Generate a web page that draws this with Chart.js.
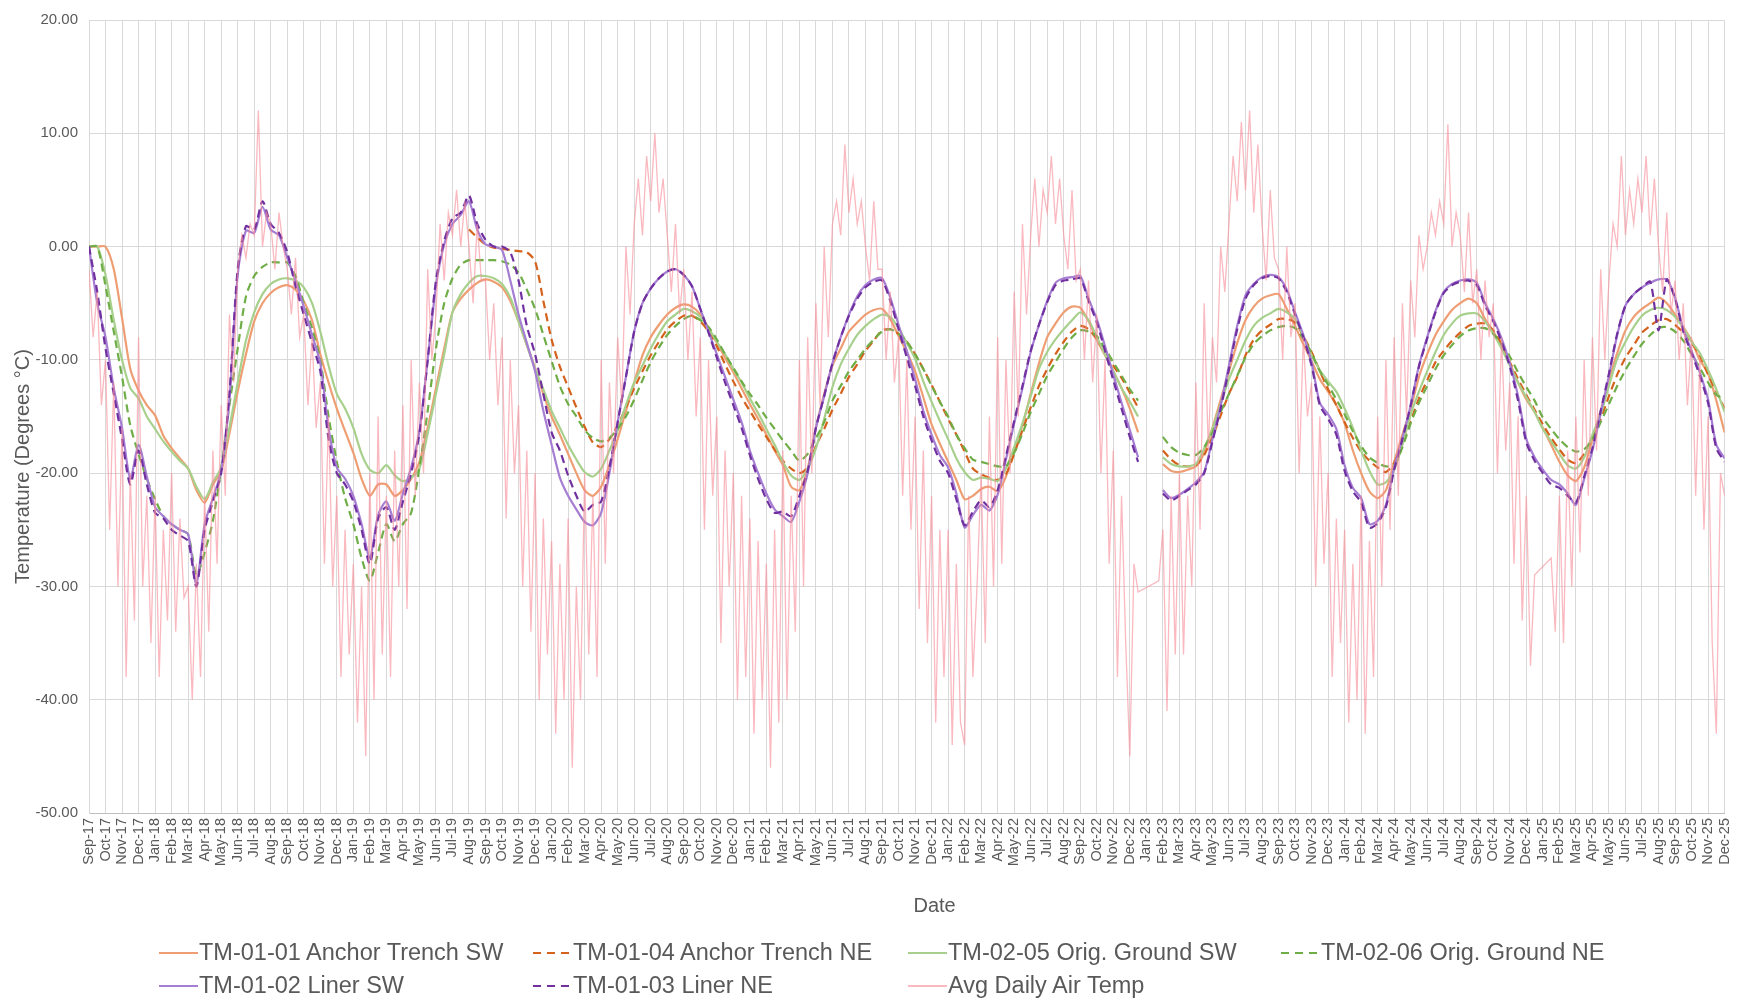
<!DOCTYPE html>
<html>
<head>
<meta charset="utf-8">
<script src="https://cdn.jsdelivr.net/npm/chart.js@4.4.1/dist/chart.umd.min.js"></script>
<style>
  html, body { margin: 0; padding: 0; background: #fff; }
  #wrap { position: relative; width: 1747px; height: 1003px; }
  #legend {
    position: absolute; left: 159px; top: 936px;
    display: grid; grid-template-columns: 374px 375px 373px auto;
    font-family: "Liberation Sans", Arial, sans-serif; font-size: 23.5px; color: #595959;
  }
  .item { display: flex; align-items: center; height: 33px; white-space: nowrap; }
</style>
</head>
<body>
<div id="wrap">
  <canvas id="tempChart" width="1747" height="1003"></canvas>
  <div id="legend"></div>
</div>
<script>
// month ticks, one per month from Sep-17
const monthLabels = [
  'Sep-17','Oct-17','Nov-17','Dec-17',
  'Jan-18','Feb-18','Mar-18','Apr-18','May-18','Jun-18','Jul-18','Aug-18','Sep-18','Oct-18','Nov-18','Dec-18',
  'Jan-19','Feb-19','Mar-19','Apr-19','May-19','Jun-19','Jul-19','Aug-19','Sep-19','Oct-19','Nov-19','Dec-19',
  'Jan-20','Feb-20','Mar-20','Apr-20','May-20','Jun-20','Jul-20','Aug-20','Sep-20','Oct-20','Nov-20','Dec-20',
  'Jan-21','Feb-21','Mar-21','Apr-21','May-21','Jun-21','Jul-21','Aug-21','Sep-21','Oct-21','Nov-21','Dec-21',
  'Jan-22','Feb-22','Mar-22','Apr-22','May-22','Jun-22','Jul-22','Aug-22','Sep-22','Oct-22','Nov-22','Dec-22',
  'Jan-23','Feb-23','Mar-23','Apr-23','May-23','Jun-23','Jul-23','Aug-23','Sep-23','Oct-23','Nov-23','Dec-23',
  'Jan-24','Feb-24','Mar-24','Apr-24','May-24','Jun-24','Jul-24','Aug-24','Sep-24','Oct-24','Nov-24','Dec-24',
  'Jan-25','Feb-25','Mar-25','Apr-25','May-25','Jun-25','Jul-25','Aug-25','Sep-25','Oct-25','Nov-25','Dec-25'
];
const yTicks = [-50, -40, -30, -20, -10, 0, 10, 20];

// thermistor readings, twice a month (Sep-17 .. Dec-25), one row per Sep..Aug year
const TM_STEP = 0.5;
const anchorSW = [
  0, 0, 0, -2, -6.3, -10.8, -12.7, -14, -14.9, -16.7, -17.8, -18.7, -19.6, -21.5, -22.6, -21, -19.8, -16.5, -12.8, -9.5, -6.6, -5, -4.1, -3.6,
  -3.4, -3.8, -4.8, -6.5, -9.5, -12, -14.3, -16.3, -18.2, -20.5, -22, -21, -21, -22, -21.5, -20.5, -19, -16, -12.5, -9, -5.8, -4.6, -3.8, -3.2,
  -2.9, -3.1, -3.6, -4.8, -6.6, -8.7, -10.7, -13, -15, -16.6, -18.3, -20, -21.5, -22, -21.2, -19.3, -17, -14.5, -12, -9.6, -8, -6.9, -6, -5.4,
  -5.1, -5.3, -6, -7.2, -8.5, -9.8, -11.1, -12.5, -13.9, -15.2, -16.6, -18, -19.3, -21.2, -21.5, -19.6, -16, -13, -10.5, -9, -7.5, -6.7, -6, -5.6,
  -5.5, -6.4, -7.9, -9.3, -11, -13.3, -15.7, -17.4, -19, -20.6, -22.3, -22, -21.4, -21.2, -21.6, -20.3, -18, -15.8, -13, -10.3, -8, -6.8, -5.8, -5.3,
  -5.4, -6.6, -8.2, -9.6, -11, -12.5, -14.3, -16.4, null, null, -19.2, -19.8, -19.9, -19.7, -19.4, -18.2, -16, -13.5, -11, -8.5, -6.5, -5.3, -4.6, -4.3,
  -4.2, -5.5, -7, -8.6, -10.1, -11.7, -12.8, -14, -15.6, -18, -20, -21.6, -22.2, -21.5, -19, -16.6, -14.3, -11.5, -9.5, -7.8, -6.6, -5.6, -5, -4.6,
  -5, -6.4, -7.5, -8.8, -10.3, -12, -13.5, -14.6, -16, -17.5, -19, -20.2, -20.7, -19.5, -17, -14.5, -11.8, -9.4, -7.4, -6.2, -5.5, -5, -4.5, -5,
  -6, -7.1, -8.3, -10, -11.2, -13.6, -16.4
];
const anchorNE = [
  null, null, null, null, null, null, null, null, null, null, null, null, null, null, null, null, null, null, null, null, null, null, null, null,
  null, null, null, null, null, null, null, null, null, null, null, null, null, null, null, null, null, null, null, null, null, null, 1.5, 0.8,
  0.2, -0.1, -0.2, -0.3, -0.4, -0.5, -1.3, -4.8, -8.2, -10.6, -12.4, -14.2, -15.9, -17.3, -17.7, -17, -15.8, -14.2, -12.5, -11, -9.6, -8.4, -7.3, -6.6,
  -6.1, -6.1, -6.6, -7.5, -8.8, -10.4, -11.9, -13.3, -14.5, -15.7, -16.8, -17.9, -18.9, -19.6, -20, -19.5, -17.6, -16.1, -14.4, -13, -11.5, -10.4, -9.2, -8.3,
  -7.4, -7.3, -7.7, -8.4, -9.5, -10.8, -12.2, -13.7, -15.2, -16.6, -18.1, -19.6, -20.1, -20.4, -20.6, -20.1, -18.3, -16.2, -14.2, -12.3, -10.8, -9.5, -8.4, -7.5,
  -7, -7.3, -8.2, -9.4, -10.5, -11.6, -12.9, -14.2, null, null, -18, -18.8, -19.3, -19.4, -19.3, -18.4, -16.8, -14.9, -13, -11.5, -9.6, -8.2, -7.4, -6.9,
  -6.4, -6.4, -6.7, -7.9, -9.3, -11, -12.6, -14, -15.5, -16.9, -18.1, -18.9, -19.5, -19.9, -19.1, -17.4, -15.4, -13.4, -11.8, -10.2, -9.2, -8.3, -7.6, -7,
  -6.8, -6.8, -7.4, -8.6, -10.2, -11.7, -13.1, -14.4, -15.7, -16.9, -17.9, -18.8, -19.1, -18.3, -16.9, -15.2, -13.2, -11.3, -9.8, -8.7, -7.6, -7, -6.5, -6.4,
  -6.9, -7.6, -8.5, -9.6, -11.3, -12.8, -14.3
];
const groundSW = [
  0, 0, -2.5, -6.5, -10, -12.5, -13.4, -15, -16.1, -17.2, -18.1, -18.9, -19.6, -21.2, -22.3, -20.8, -19.5, -16, -12, -8.3, -5.8, -4.2, -3.3, -2.9,
  -2.8, -3, -3.6, -5, -7.5, -10.5, -13, -14.3, -16, -18.3, -19.7, -20, -19.3, -20.2, -20.7, -20.4, -19.6, -16.5, -13, -9.5, -5.8, -4.2, -3.2, -2.6,
  -2.6, -2.8, -3.3, -4.5, -6.6, -8.7, -10.8, -12.6, -14.5, -16, -17.5, -18.8, -19.9, -20.3, -19.6, -18, -16.2, -14, -12, -10.5, -9, -7.7, -6.6, -6,
  -5.5, -5.7, -6.2, -7.2, -8.4, -9.5, -10.8, -12, -13.4, -14.7, -16.1, -17.5, -19, -20.2, -20.6, -19.6, -17.8, -15.2, -12.4, -10.4, -9, -7.8, -7, -6.4,
  -6, -6.2, -7.2, -8.5, -9.9, -11.9, -13.7, -15.4, -17, -18.7, -19.9, -20.6, -20.4, -20.5, -20.7, -19.6, -17.7, -15.6, -13.2, -10.8, -9.3, -8.2, -7.3, -6.5,
  -5.8, -6.5, -8, -9.5, -11, -12.5, -13.7, -15, null, null, -18.6, -19.2, -19.4, -19.4, -19.2, -17.8, -16.1, -13.9, -11.7, -10, -8.3, -7, -6.3, -5.9,
  -5.5, -5.8, -6.4, -7.9, -9.6, -10.9, -11.9, -12.8, -14.3, -16, -18, -19.8, -21, -20.8, -19.7, -17.5, -14.8, -12.8, -11, -9.3, -7.8, -6.8, -6.1, -5.9,
  -5.9, -6.6, -7.7, -9, -10.5, -12, -13.3, -14.6, -16.1, -17.2, -18.3, -19.3, -19.6, -18.6, -16.6, -14.8, -12.3, -9.9, -8.4, -7.1, -6.1, -5.6, -5.4, -5.6,
  -6.2, -7.2, -8.4, -9.4, -10.9, -12.6, -14.6
];
const groundNE = [
  0, 0, -3.5, -7.5, -11.5, -15.8, -18.3, -20.5, -22.3, -23.8, -24.5, -25, -25.4, -29, -27, -24.2, -19.6, -14, -9, -4.4, -2.6, -1.8, -1.4, -1.4,
  -1.4, -2.6, -5, -7.2, -10, -15, -19, -22.2, -24.5, -27.5, -29.5, -27, -24.5, -26, -24.5, -23.5, -19.5, -14.5, -9, -5, -2.8, -1.6, -1.2, -1.2,
  -1.2, -1.2, -1.3, -1.6, -2.3, -3.8, -5.5, -7.8, -10.1, -12.3, -13.9, -15, -16.2, -16.9, -17.2, -16.9, -16.1, -15, -13.5, -11.8, -10.2, -8.9, -7.8, -7,
  -6.4, -6.1, -6.5, -7.1, -8.2, -9.5, -10.7, -11.9, -13, -14, -15.1, -16.1, -17.1, -18, -18.9, -18.3, -16.9, -15.5, -13.6, -12.3, -11, -10, -9, -8.2,
  -7.5, -7.3, -7.7, -8.4, -9.5, -10.8, -12.3, -13.7, -15, -16.6, -17.8, -18.8, -19, -19.2, -19.4, -19.4, -18.2, -16.5, -14.6, -13, -11.4, -10.2, -9, -8,
  -7.4, -7.5, -7.9, -9, -10.2, -11.4, -12.6, -13.6, null, null, -16.8, -17.7, -18.2, -18.4, -18.4, -17.7, -16.4, -14.6, -13, -11.4, -9.8, -8.6, -7.9, -7.4,
  -7.1, -7, -7.2, -8.1, -9.4, -11, -12.2, -13.5, -14.8, -16.3, -17.6, -18.6, -19.1, -19.4, -19.3, -17.7, -15.6, -13.8, -12.3, -10.8, -9.6, -8.7, -7.9, -7.4,
  -7.2, -7.2, -7.7, -8.6, -9.7, -11.1, -12.4, -13.6, -15.1, -16.1, -17, -17.7, -18.1, -17.9, -17, -15.5, -13.9, -12.3, -10.9, -9.7, -8.6, -7.8, -7.2, -7.1,
  -7.5, -8.3, -9.5, -10.7, -12, -13.1, -13.4
];
const linerSW = [
  0, -5, -8, -12.5, -16, -20.5, -17.5, -20.3, -23, -23.8, -24.5, -25, -25.4, -29.8, -24.5, -22.2, -19.8, -13.4, -2.5, 1.4, 1.2, 3.5, 1.5, 1,
  -1, -3, -5.3, -7.8, -10.3, -16, -19.5, -20.5, -22, -24.5, -27.5, -23.7, -22.5, -24.2, -21.8, -19.5, -16.3, -10, -3.5, 0.2, 2, 2.8, 4, 1.5,
  0.2, 0, -0.3, -3, -6, -8.5, -11, -14.5, -17.5, -20.4, -22, -23.2, -24.3, -24.6, -23.5, -20, -15.5, -11.5, -7.5, -5, -3.7, -2.8, -2.2, -2,
  -2.5, -3.5, -5.5, -7.5, -9.5, -11.5, -13.5, -15.5, -18, -20, -21.8, -23.2, -23.8, -24.3, -22.5, -20, -16, -13.2, -10.3, -8, -6, -4.4, -3.4, -2.9,
  -2.8, -4.5, -6.9, -9.2, -11.7, -14.5, -16.6, -18.4, -19.5, -21.8, -24.8, -23.7, -22.8, -23.3, -21.9, -18.8, -15.6, -12.5, -9.3, -6.9, -4.8, -3.2, -2.8, -2.7,
  -2.6, -4.6, -6.4, -8.8, -11.3, -13.8, -16.2, -18.6, null, null, -21.5, -22.2, -21.9, -21.4, -20.8, -19.9, -17, -14, -10.5, -7, -4.3, -3.3, -2.7, -2.5,
  -2.7, -3.8, -5.8, -7.8, -10.2, -13.8, -14.8, -16.1, -19.3, -21.3, -22.2, -24.5, -24.2, -22.8, -19.5, -16.9, -14, -10.5, -8, -5.7, -4, -3.3, -3, -2.9,
  -3.2, -5, -6.4, -8.1, -10.3, -13.2, -17, -18.6, -19.7, -20.6, -21, -21.8, -22.8, -20.5, -18, -14.7, -11.4, -7.8, -5.2, -4.2, -3.6, -3.2, -2.9, -2.9,
  -4.5, -7.3, -9.2, -11.1, -13.5, -17.5, -18.7
];
const linerNE = [
  0, -4, -9, -13, -17, -21, -18, -21, -23.5, -24, -25, -25.5, -26, -30, -25, -22.5, -20, -13, -2, 1.8, 1.5, 4, 2, 1.2,
  -0.5, -3.5, -6, -8.5, -11, -17, -20, -21, -22.5, -25, -28, -24, -23, -25, -22.5, -20, -16.5, -10, -3, 0.5, 2.5, 3, 4.5, 2,
  0.6, 0, 0, -0.5, -3, -7, -9.5, -13, -16.4, -18, -20.2, -22, -23.4, -22.8, -22.5, -19.5, -15.5, -11.5, -7.5, -5, -3.7, -2.8, -2.2, -2,
  -2.5, -3.5, -5.5, -7.6, -9.8, -12, -14, -16, -18.4, -20.5, -22.3, -23.5, -23.4, -23.8, -22, -19.8, -16, -13.2, -10.3, -8, -6.1, -4.6, -3.6, -3.1,
  -3, -4.8, -7.3, -9.8, -12.3, -15, -17.1, -18.9, -20, -22.3, -24.6, -23.4, -22.4, -23, -21.5, -18.5, -15.4, -12.3, -9.2, -6.9, -4.9, -3.4, -3, -2.9,
  -2.8, -4.8, -6.7, -9.2, -11.8, -14.3, -16.8, -19, null, null, -21.8, -22.4, -22, -21.5, -21, -20, -17.2, -14.3, -10.8, -7.3, -4.6, -3.4, -2.8, -2.6,
  -2.8, -4, -6, -8, -10.5, -14, -15.2, -16.6, -19.8, -21.6, -22.6, -24.8, -24.4, -23, -19.7, -17, -14, -10.6, -8.1, -5.8, -4.1, -3.4, -3.1, -3,
  -3.4, -5.2, -6.6, -8.4, -10.6, -13.6, -17.3, -18.9, -20, -21, -21.3, -22, -22.6, -20.3, -17.8, -14.5, -11.2, -7.7, -5.2, -4.2, -3.6, -3.1, -7.4, -2.9,
  -4.6, -7.5, -9.4, -11.4, -13.8, -17.8, -19
];

// average daily air temperature, read about weekly (4 per month); null = no record
const AIR_STEP = 0.25;
const airTemp = [
  -2, -8, -4, -14,   -10, -25, -12, -30,   -16, -38, -20, -33,   -8, -30, -22, -35,
  -22, -38, -25, -33,   -20, -34, -24, -31,   -30, -40, -28, -38,   -22, -34, -18, -28,
  -14, -22, -6, -12,   -2, 1, -1, 2,   1, 12, 0, 3,   2, -2, 3, 0,
  -2, -6, -1, -8,   -6, -14, -8, -16,   -12, -28, -15, -30,   -22, -38, -25, -36,
  -28, -42, -30, -45,   -20, -40, -15, -36,   -22, -38, -18, -30,   -14, -32, -10, -22,
  -12, -20, -2, -10,   -6, 2, -3, 3,   1, 5, 0, 4,   0, -5, 2, -3,
  -3, -10, -5, -14,   -8, -24, -10, -20,   -14, -30, -18, -34,   -20, -40, -24, -36,
  -26, -43, -28, -40,   -24, -46, -30, -40,   -20, -36, -22, -38,   -10, -28, -12, -20,
  -8, -14, 0, -6,   2, 6, 1, 8,   4, 10, 3, 6,   1, -4, 2, -6,
  -2, -10, -4, -15,   -8, -25, -10, -22,   -15, -35, -18, -30,   -20, -40, -22, -38,
  -24, -43, -26, -40,   -28, -46, -25, -42,   -18, -40, -22, -34,   -10, -30, -8, -20,
  -5, -14, 0, -8,   2, 4, 1, 9,   3, 6, 2, 4,   0, -3, 4, -2,
  -2, -10, -4, -12,   -8, -22, -10, -25,   -15, -32, -18, -35,   -22, -42, -25, -38,
  -25, -44, -28, -42,   -44, -22, -38, -30,   -20, -35, -15, -30,   -8, -28, -10, -20,
  -4, -15, 2, -6,   1, 6, 0, 5,   3, 8, 2, 6,   1, -2, 5, -3,
  -2, -10, -3, -12,   -6, -20, -10, -28,   -18, -38, -22, -35,   -45, -28, -30.5, null,
  null, null, null, -29.5,   -25, -41, -22, -36,   -20, -36, -22, -30,   -12, -25, -5, -18,
  -8, -12, 0, -4,   2, 8, 4, 11,   5, 12, 3, 9,   2, -3, 5, -1,
  -2, -10, 0, -8,   -5, -20, -8, -15,   -12, -30, -15, -28,   -20, -38, -24, -35,
  -25, -42, -28, -40,   -22, -43, -26, -38,   -15, -30, -10, -25,   -8, -22, -5, -15,
  -3, -8, 1, -2,   0, 3, 1, 4,   2, 10.8, 0, 3,   1, -4, 3, -5,
  -2, -10, -3, -8,   -5, -20, -8, -18,   -12, -28, -15, -33,   -22, -37, -29, null,
  null, null, -27.5, -34,   -22, -35, -18, -30,   -15, -27, -10, -22,   -8, -18, -2, -10,
  -3, 2, 0, 8,   1, 5, 2, 6,   3, 8, 1, 6,   0, -4, 3, -6,
  -3, -10, -5, -14,   -8, -22, -10, -25,   -15, -35, -43, -20,   -22, -40, -28, -38
];

const FONT = '"Liberation Sans", Arial, sans-serif';
const GRID = '#D9D9D9';
const TEXT = '#595959';
const DASH = [8, 5];

function toPoints(values, step) {
  return values.map((v, i) => ({ x: i * step, y: v }));
}

// legend order (row by row, four columns)
const series = [
  { label: 'TM-01-01 Anchor Trench SW', data: anchorSW, color: '#EE9E72', dash: null, order: 7 },
  { label: 'TM-01-04 Anchor Trench NE', data: anchorNE, color: '#D4621C', dash: DASH, order: 6 },
  { label: 'TM-02-05 Orig. Ground SW', data: groundSW, color: '#A8D08D', dash: null, order: 5 },
  { label: 'TM-02-06 Orig. Ground NE', data: groundNE, color: '#6FAD47', dash: DASH, order: 4 },
  { label: 'TM-01-02 Liner SW', data: linerSW, color: '#A57DD2', dash: null, order: 3 },
  { label: 'TM-01-03 Liner NE', data: linerNE, color: '#7030A0', dash: DASH, order: 2 },
  { label: 'Avg Daily Air Temp', data: airTemp, color: 'rgba(247,140,152,0.62)', dash: null, order: 1, air: true }
];

const datasets = series.map(s => ({
  label: s.label,
  data: toPoints(s.data, s.air ? AIR_STEP : TM_STEP),
  borderColor: s.color,
  backgroundColor: s.color,
  borderWidth: s.air ? 1.3 : 2.2,
  borderDash: s.dash || [],
  pointRadius: 0,
  tension: s.air ? 0 : 0.25,
  spanGaps: !!s.air,
  order: s.order
}));

new Chart(document.getElementById('tempChart'), {
  type: 'line',
  data: { datasets },
  options: {
    responsive: false,
    animation: false,
    events: [],
    layout: { padding: { top: 16, right: 19, bottom: 85, left: 0 } },
    plugins: { legend: { display: false }, tooltip: { enabled: false } },
    scales: {
      x: {
        type: 'linear',
        min: 0,
        max: monthLabels.length - 1,
        afterFit: scale => { scale.height = 105; },
        grid: { color: GRID, drawTicks: false },
        border: { color: '#BFBFBF' },
        ticks: {
          stepSize: 1,
          autoSkip: false,
          minRotation: 90,
          maxRotation: 90,
          padding: 5,
          color: TEXT,
          font: { family: FONT, size: 14.5 },
          callback: v => monthLabels[Math.round(v)]
        },
        // leading blanks nudge the centred title right, as in the original
        title: { display: true, text: '          Date', color: TEXT, font: { family: FONT, size: 20 }, padding: { top: 0, bottom: 0 } }
      },
      y: {
        min: yTicks[0],
        max: yTicks[yTicks.length - 1],
        afterFit: scale => { scale.width = 89; },
        grid: { color: GRID, drawTicks: false },
        border: { color: GRID },
        ticks: { stepSize: 10, padding: 11, color: TEXT, font: { family: FONT, size: 15 }, callback: v => v.toFixed(2) },
        // trailing blanks push the rotated title a little lower
        title: { display: true, text: 'Temperature (Degrees °C)                  ', color: TEXT, font: { family: FONT, size: 20 }, padding: { top: 11, bottom: 0 } }
      }
    }
  }
});

// legend laid out in columns like the original
const legendBox = document.getElementById('legend');
series.forEach(s => {
  const item = document.createElement('div');
  item.className = 'item';
  const dashAttr = s.dash ? ' stroke-dasharray="8 6"' : '';
  item.innerHTML = '<svg width="40" height="6"><line x1="0" y1="3" x2="39" y2="3" stroke="' + s.color +
    '" stroke-width="2"' + dashAttr + '/></svg><span>' + s.label + '</span>';
  legendBox.appendChild(item);
});
</script>
</body>
</html>
